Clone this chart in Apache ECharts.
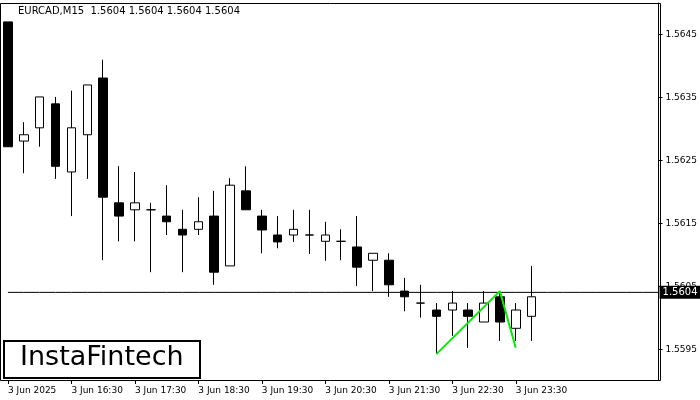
<!DOCTYPE html>
<html><head><meta charset="utf-8">
<script src="https://cdn.jsdelivr.net/npm/echarts@6/dist/echarts.min.js"></script>
<style>html,body{margin:0;padding:0;background:#fff}#c{width:700px;height:400px}</style>
</head><body><div id="c"></div>
<script>
const categories = ['3 Jun 2025','16:00','16:15','16:30','3 Jun 16:30','16:45','17:00','17:15','3 Jun 17:30','17:45','18:00','18:15','3 Jun 18:30','18:45','19:00','19:15','3 Jun 19:30','19:45','20:00','20:15','3 Jun 20:30','20:45','21:00','21:15','3 Jun 21:30','21:45','22:00','22:15','3 Jun 22:30','22:45','23:00','23:15','3 Jun 23:30','23:45','a','b','c','d','e','f','g','h'];
const shownLabels = ['3 Jun 2025','3 Jun 16:30','3 Jun 17:30','3 Jun 18:30','3 Jun 19:30','3 Jun 20:30','3 Jun 21:30','3 Jun 22:30','3 Jun 23:30'];
// [open, close, low, high]
const ohlc = [
 [1.56469,1.56271,1.56271,1.56469],
 [1.56280,1.56290,1.56229,1.56310],
 [1.56301,1.56350,1.56271,1.56350],
 [1.56339,1.56240,1.56220,1.56350],
 [1.56231,1.56301,1.56161,1.56360],
 [1.56290,1.56369,1.56220,1.56369],
 [1.56380,1.56191,1.56091,1.56409],
 [1.56182,1.56161,1.56121,1.56240],
 [1.56171,1.56182,1.56121,1.56231],
 [1.56171,1.56171,1.56072,1.56182],
 [1.56161,1.56152,1.56131,1.56210],
 [1.56140,1.56131,1.56072,1.56171],
 [1.56140,1.56152,1.56131,1.56191],
 [1.56161,1.56072,1.56052,1.56201],
 [1.56082,1.56210,1.56082,1.56221],
 [1.56201,1.56171,1.56171,1.56240],
 [1.56161,1.56139,1.56102,1.56171],
 [1.56131,1.56120,1.56110,1.56161],
 [1.56131,1.56140,1.56120,1.56171],
 [1.56131,1.56131,1.56101,1.56171],
 [1.56121,1.56131,1.56090,1.56152],
 [1.56121,1.56121,1.56091,1.56140],
 [1.56112,1.56080,1.56050,1.56161],
 [1.56091,1.56102,1.56042,1.56102],
 [1.56091,1.56052,1.56033,1.56102],
 [1.56042,1.56033,1.56010,1.56063],
 [1.56023,1.56023,1.56000,1.56052],
 [1.56012,1.56002,1.55942,1.56023],
 [1.56012,1.56023,1.55971,1.56042],
 [1.56012,1.56002,1.55952,1.56023],
 [1.55993,1.56023,1.55993,1.56042],
 [1.56033,1.55993,1.55963,1.56042],
 [1.55983,1.56012,1.55963,1.56023],
 [1.56002,1.56033,1.55963,1.56082]
];
const patternIdx = [27, 31, 32];
const patternVal = [1.55942, 1.56042, 1.55952];
const yTicks = [1.5595,1.5605,1.5615,1.5625,1.5635,1.5645];
const current = 1.5604;
const titleText = 'EURCAD,M15  1.5604 1.5604 1.5604 1.5604';

const patternData = categories.map(()=>null);
patternIdx.forEach((i,k)=>patternData[i]=patternVal[k]);
const currentData = categories.map(()=>current);

const chart = echarts.init(document.getElementById('c'));
chart.setOption({
 animation:false,
 backgroundColor:'#fff',
 grid:{left:-4,right:32,top:3,bottom:20},
 xAxis:{type:'category',data:categories,boundaryGap:true,
  axisLine:{show:false},
  axisTick:{show:true,alignWithLabel:true,interval:(i,v)=>shownLabels.includes(v),length:4,lineStyle:{color:'#000'}},
  axisLabel:{interval:(i,v)=>shownLabels.includes(v),formatter:v=>shownLabels.includes(v)?v:'',align:'left',margin:6,color:'#000',fontFamily:'DejaVu Sans',fontSize:9},
  splitLine:{show:false}},
 yAxis:{type:'value',position:'right',offset:-8,min:1.55901,max:1.56499,scale:true,
  axisLine:{show:true,lineStyle:{color:'#000'}},
  axisTick:{show:true,customValues:yTicks,length:4,lineStyle:{color:'#000'}},
  axisLabel:{customValues:yTicks,formatter:v=>v.toFixed(4),color:'#000',fontFamily:'DejaVu Sans',fontSize:9,margin:7,verticalAlign:'top',padding:[-4,0,0,0]},
  splitLine:{show:false}},
 graphic:[
  {type:'rect',shape:{x:0.5,y:3.5,width:660,height:377},style:{fill:'none',stroke:'#000',lineWidth:1},z:0,silent:true},
  {type:'text',left:18,top:6,style:{text:titleText,font:'10px DejaVu Sans',fill:'#000'}},
  {type:'rect',shape:{x:4,y:341,width:196,height:37},style:{fill:'#fff',stroke:'#000',lineWidth:2},z:100},
  {type:'text',left:20,top:344,z:101,style:{text:'InstaFintech',font:'27px DejaVu Sans',fill:'#000'}}
 ],
 series:[
  {type:'line',data:currentData,showSymbol:false,silent:true,lineStyle:{color:'#000',width:1},z:1,
   endLabel:{show:true,formatter:current.toFixed(4),backgroundColor:'#000',color:'#fff',fontFamily:'DejaVu Sans',fontSize:10,padding:[2,3,1,3],distance:1}},
  {type:'candlestick',data:ohlc,barWidth:9,z:2,
   itemStyle:{color:'#fff',color0:'#000',borderColor:'#000',borderColor0:'#000',borderWidth:1}},
  {type:'line',data:patternData,connectNulls:true,showSymbol:false,lineStyle:{color:'#00ee00',width:2},z:5}
 ]
});
</script></body></html>
